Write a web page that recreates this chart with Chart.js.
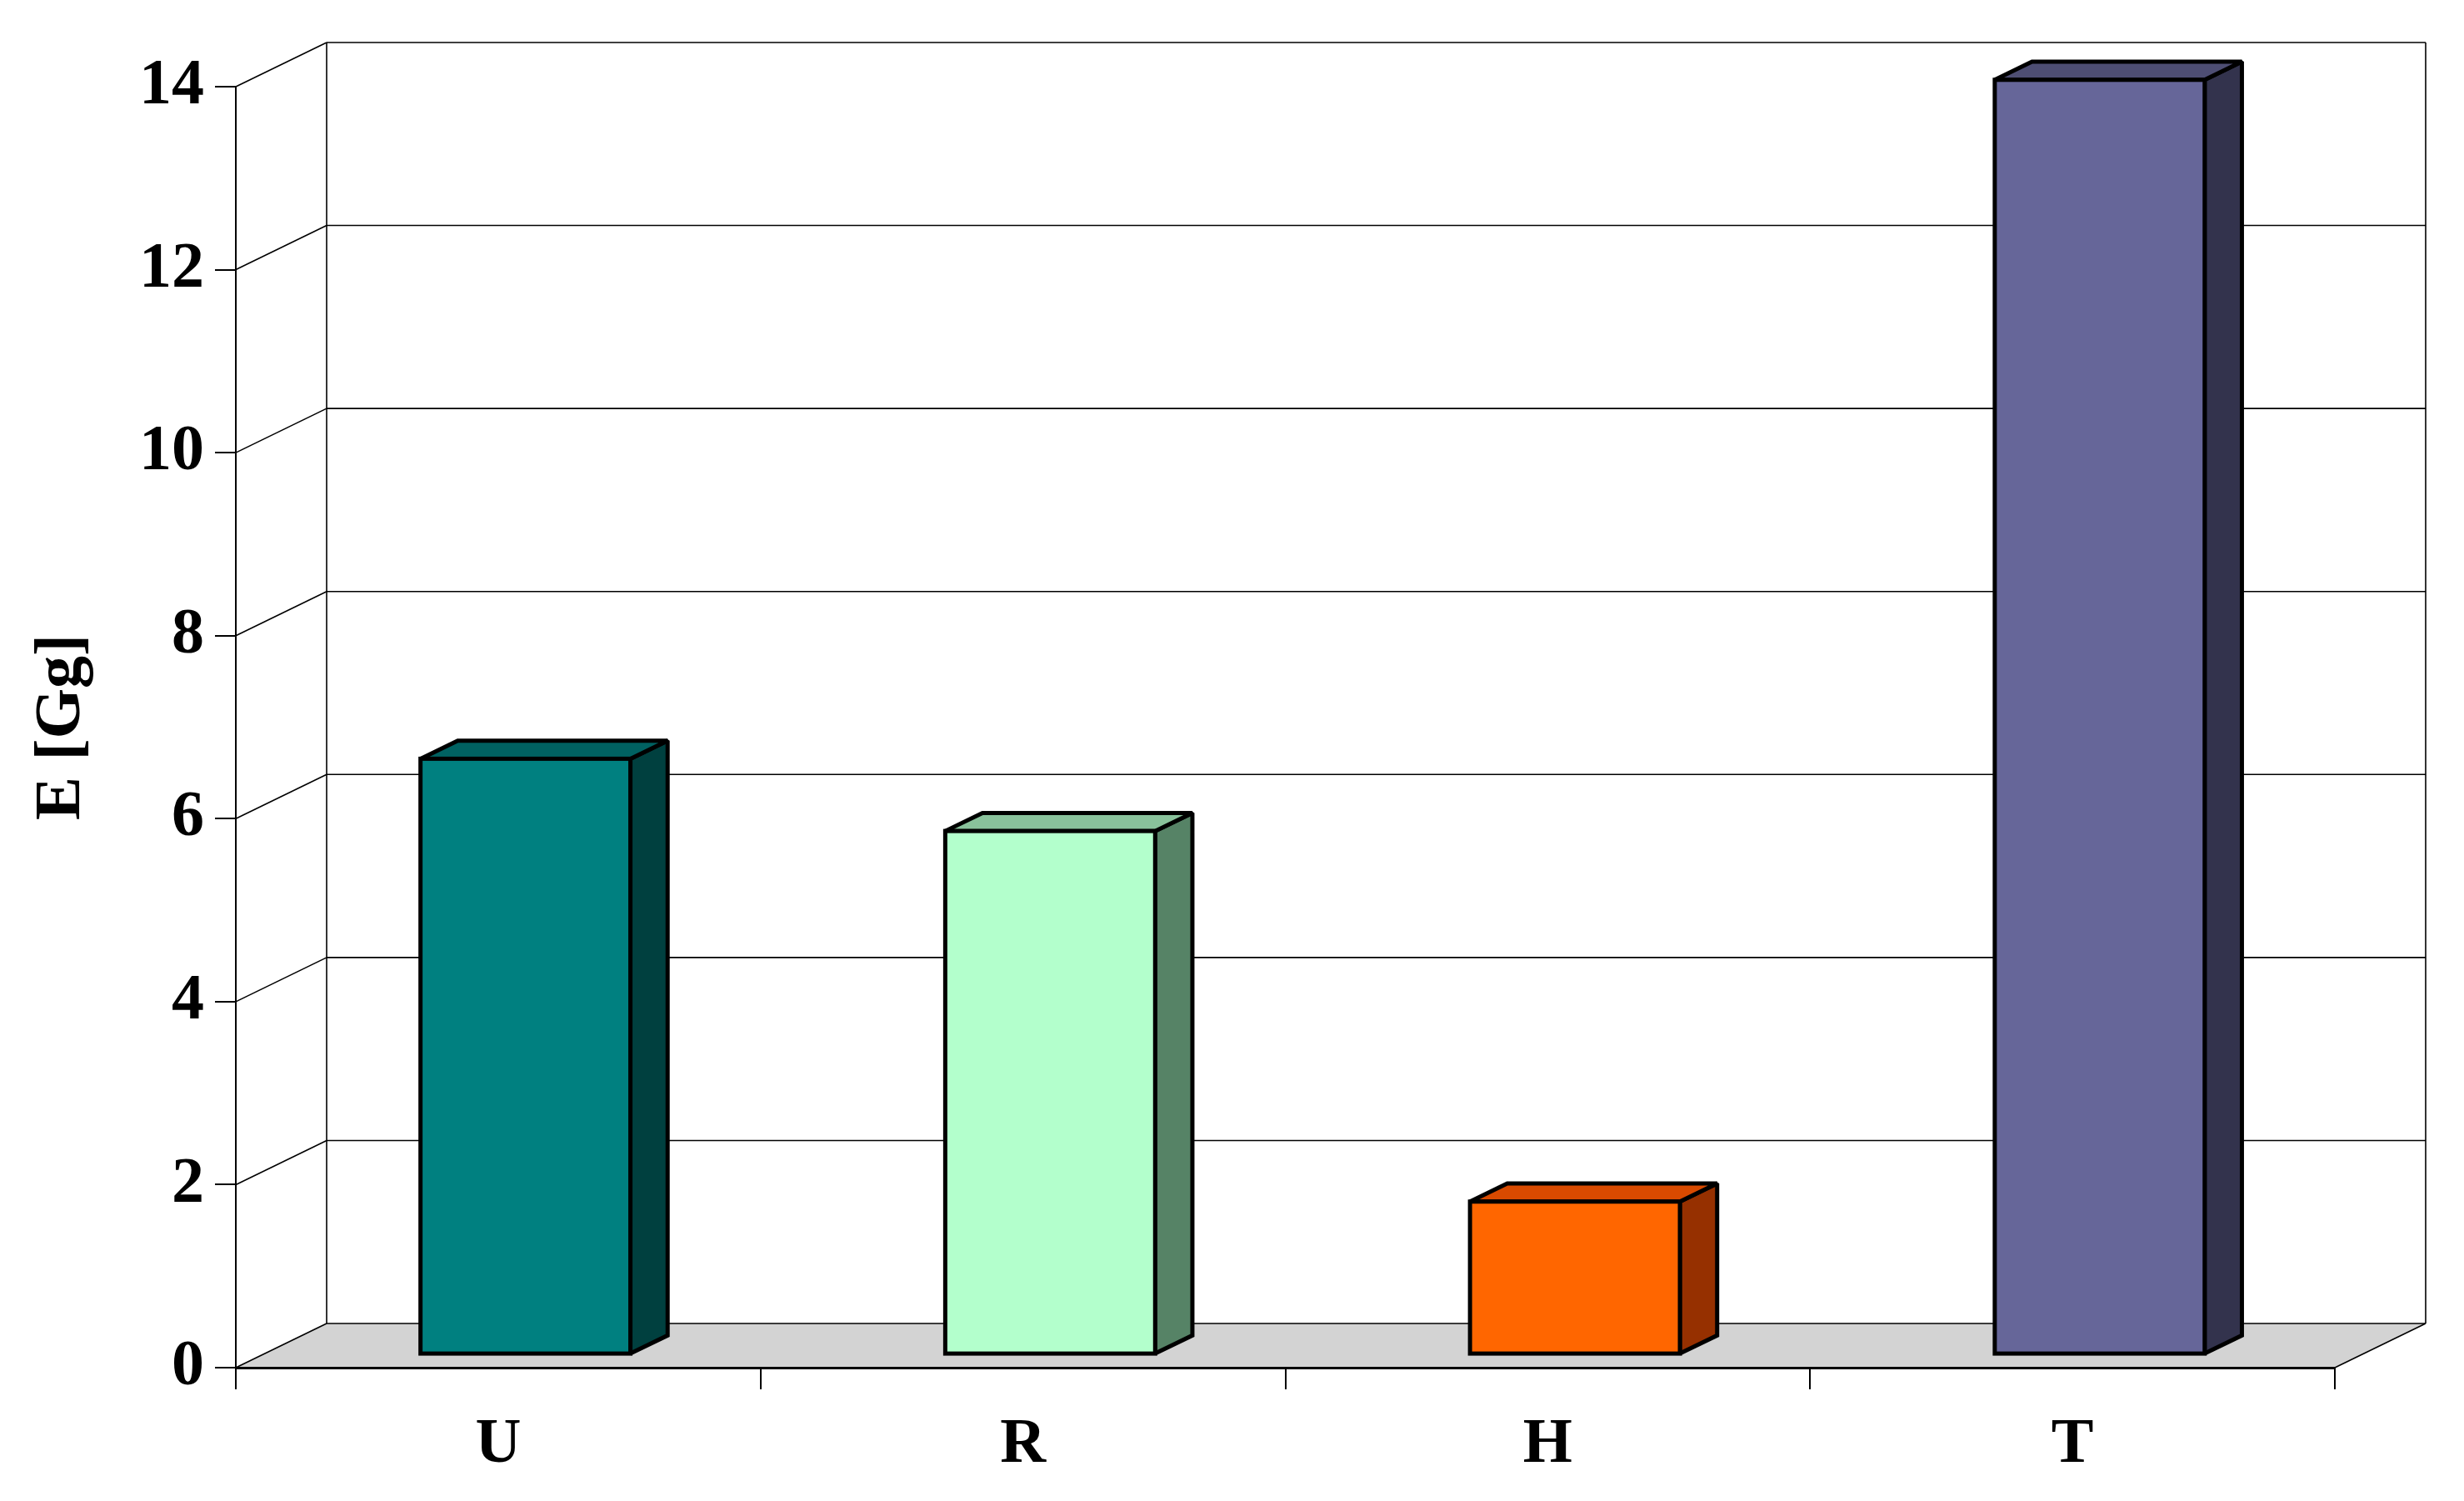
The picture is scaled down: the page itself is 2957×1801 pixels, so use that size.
<!DOCTYPE html>
<html>
<head>
<meta charset="utf-8">
<script src="https://cdn.jsdelivr.net/npm/chart.js@4.4.1/dist/chart.umd.min.js"></script>
<style>
  html, body { margin: 0; padding: 0; background: #fff; }
  #wrap { width: 2957px; height: 1801px; }
</style>
</head>
<body>
<div id="wrap"><canvas id="chart"></canvas></div>
<script>
// data
const categories = ['U', 'R', 'H', 'T'];
const values = [6.51, 5.72, 1.67, 13.93];
const yTicks = [0, 2, 4, 6, 8, 10, 12, 14];
const axisTitle = 'E [Gg]';

// colours of the three visible faces of each bar
const frontColors = ['#008080', '#B3FFCC', '#FF6600', '#666699'];
const topColors = ['#006161', '#89C29B', '#D94A00', '#4E4E73'];
const sideColors = ['#00403F', '#568366', '#963000', '#33334D'];

// depth of the 3d box and where the bars sit inside it
const DEPTH_X = 109, DEPTH_Y = -53;
const BAR_FRONT = 0.3, BAR_BACK = 0.71;
const FONT = "'Liberation Serif', 'Times New Roman', serif";

function line(ctx, x1, y1, x2, y2) {
  ctx.beginPath();
  ctx.moveTo(x1, y1);
  ctx.lineTo(x2, y2);
  ctx.stroke();
}

function poly(ctx, pts, fill) {
  ctx.beginPath();
  ctx.moveTo(pts[0][0], pts[0][1]);
  pts.slice(1).forEach(p => ctx.lineTo(p[0], p[1]));
  ctx.closePath();
  ctx.fillStyle = fill;
  ctx.fill();
  ctx.stroke();
}

// floor, back wall, side wall and the bar faces
const box3d = {
  id: 'box3d',
  beforeDraw(chart) {
    const { ctx, chartArea: a, scales: { y } } = chart;
    ctx.save();
    // floor
    ctx.fillStyle = '#D3D3D3';
    ctx.beginPath();
    ctx.moveTo(a.left, a.bottom);
    ctx.lineTo(a.right, a.bottom);
    ctx.lineTo(a.right + DEPTH_X, a.bottom + DEPTH_Y);
    ctx.lineTo(a.left + DEPTH_X, a.bottom + DEPTH_Y);
    ctx.closePath();
    ctx.fill();
    // grid lines on the walls
    ctx.strokeStyle = '#000';
    ctx.lineWidth = 1.6;
    yTicks.forEach(v => {
      const py = y.getPixelForValue(v);
      line(ctx, a.left, py, a.left + DEPTH_X, py + DEPTH_Y);
      line(ctx, a.left + DEPTH_X, py + DEPTH_Y, a.right + DEPTH_X, py + DEPTH_Y);
    });
    line(ctx, a.left + DEPTH_X, a.top + DEPTH_Y, a.left + DEPTH_X, a.bottom + DEPTH_Y);
    line(ctx, a.right + DEPTH_X, a.top + DEPTH_Y, a.right + DEPTH_X, a.bottom + DEPTH_Y);
    line(ctx, a.right, a.bottom, a.right + DEPTH_X, a.bottom + DEPTH_Y);
    ctx.restore();
  },
  beforeDatasetDraw(chart, args) {
    const ctx = chart.ctx;
    const ddx = (BAR_BACK - BAR_FRONT) * DEPTH_X;
    const ddy = (BAR_BACK - BAR_FRONT) * DEPTH_Y;
    ctx.save();
    ctx.translate(BAR_FRONT * DEPTH_X, BAR_FRONT * DEPTH_Y);
    ctx.strokeStyle = '#000';
    ctx.lineWidth = 5;
    ctx.lineJoin = 'miter';
    ctx.miterLimit = 1.5;
    args.meta.data.forEach((bar, i) => {
      const { x, y, base, width } = bar.getProps(['x', 'y', 'base', 'width'], true);
      const l = x - width / 2, r = x + width / 2;
      poly(ctx, [[r, y], [r + ddx, y + ddy], [r + ddx, base + ddy], [r, base]], sideColors[i]);
      poly(ctx, [[l, y], [l + ddx, y + ddy], [r + ddx, y + ddy], [r, y]], topColors[i]);
    });
  },
  afterDatasetDraw(chart, args) {
    const ctx = chart.ctx;
    ctx.strokeStyle = '#000';
    ctx.lineWidth = 5;
    args.meta.data.forEach(bar => {
      const { x, y, base, width } = bar.getProps(['x', 'y', 'base', 'width'], true);
      ctx.strokeRect(x - width / 2, y, width, base - y);
    });
    ctx.restore();
  }
};

new Chart(document.getElementById('chart'), {
  type: 'bar',
  data: {
    labels: categories,
    datasets: [{
      data: values,
      backgroundColor: frontColors,
      borderWidth: 0,
      barPercentage: 0.4,
      categoryPercentage: 1,
      clip: false
    }]
  },
  options: {
    responsive: true,
    maintainAspectRatio: false,
    devicePixelRatio: 1,
    animation: false,
    events: [],
    layout: { padding: { top: 104, right: 155, left: 0, bottom: 0 } },
    plugins: {
      legend: { display: false },
      tooltip: { enabled: false }
    },
    scales: {
      x: {
        afterFit: s => { s.height = 160; },
        grid: {
          offset: true,
          drawOnChartArea: false,
          tickLength: 26,
          color: '#000',
          lineWidth: 2
        },
        border: { display: true, color: '#000', width: 3 },
        ticks: {
          color: '#000',
          padding: 22,
          font: { family: FONT, size: 76, weight: 'bold' }
        }
      },
      y: {
        min: 0,
        max: 14,
        afterFit: s => { s.width = 283; },
        afterBuildTicks: s => { s.ticks = yTicks.map(v => ({ value: v })); },
        grid: {
          drawOnChartArea: false,
          tickLength: 25,
          color: '#000',
          lineWidth: 2
        },
        border: { display: true, color: '#000', width: 2 },
        ticks: {
          color: '#000',
          padding: 13,
          font: { family: FONT, size: 78, weight: 'bold' }
        },
        title: {
          display: true,
          text: axisTitle,
          color: '#000',
          padding: { top: 28, bottom: 0 },
          font: { family: FONT, size: 78, weight: 'bold' }
        }
      }
    }
  },
  plugins: [box3d]
});
</script>
</body>
</html>
